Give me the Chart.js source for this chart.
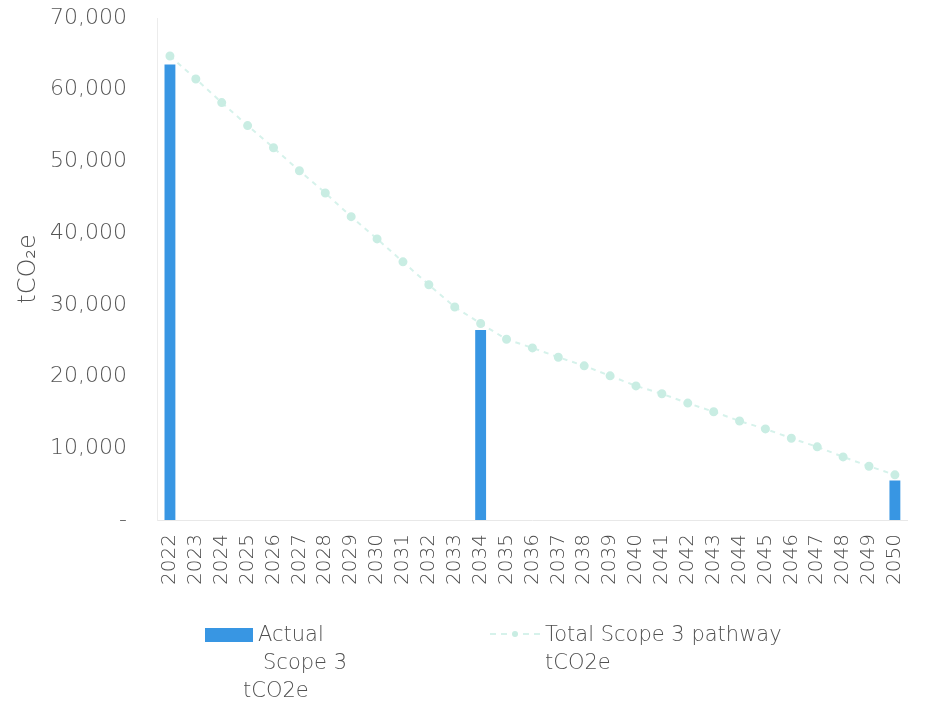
<!DOCTYPE html>
<html>
<head>
<meta charset="utf-8">
<script src="https://cdn.jsdelivr.net/npm/chart.js@4"></script>
<style>
  body { margin: 0; background: #fff; }
  #wrap { position: relative; width: 933px; height: 709px; }
  .lg { position: absolute; font-family: 'DejaVu Sans', sans-serif; font-weight: 300;
        font-size: 21px; line-height: 28px; color: #505050; white-space: nowrap; }
  #lgBox { position: absolute; left: 205px; top: 628px; width: 48px; height: 14px; }
  #lgLine { position: absolute; left: 490px; top: 633px; width: 50px; height: 0; }
  #lgDot { position: absolute; left: 512px; top: 631px; width: 6px; height: 6px; border-radius: 50%; }
</style>
</head>
<body>
<div id="wrap">
  <canvas id="scopeChart" width="933" height="709"></canvas>
  <div id="lgBox"></div>
  <div class="lg" style="left:258px; top:620px;">
    <div>Actual</div>
    <div style="margin-left:5px">Scope 3</div>
    <div style="margin-left:-15px">tCO2e</div>
  </div>
  <div id="lgLine"></div>
  <div id="lgDot"></div>
  <div class="lg" style="left:545px; top:620px;">
    <div>Total Scope 3 pathway</div>
    <div>tCO2e</div>
  </div>
</div>
<script>
  // data
  const years = ['2022', '2023', '2024', '2025', '2026', '2027', '2028', '2029', '2030',
    '2031', '2032', '2033', '2034', '2035', '2036', '2037', '2038', '2039', '2040',
    '2041', '2042', '2043', '2044', '2045', '2046', '2047', '2048', '2049', '2050'];

  const actual = [63500, null, null, null, null, null, null, null, null, null, null, null,
    26500, null, null, null, null, null, null, null, null, null, null, null, null, null,
    null, null, 5500];

  const pathway = [64700, 61500, 58200, 55000, 51900, 48700, 45600, 42300, 39200, 36000,
    32800, 29700, 27400, 25200, 24000, 22700, 21500, 20100, 18700, 17600, 16300, 15100,
    13800, 12700, 11400, 10200, 8800, 7500, 6300];

  const yTicks = [0, 10000, 20000, 30000, 40000, 50000, 60000, 70000];

  const barColor = '#3896e3';
  const lineColor = '#d6f2eb';
  const dotColor = '#c9ede3';

  // legend swatches (html)
  document.getElementById('lgBox').style.background = barColor;
  document.getElementById('lgLine').style.borderTop = '2px dashed ' + lineColor;
  document.getElementById('lgDot').style.background = dotColor;

  Chart.defaults.font.family = "'DejaVu Sans', sans-serif";
  Chart.defaults.font.weight = 300;
  Chart.defaults.color = '#555';

  const scopeData = {
    labels: years,
    datasets: [{
      type: 'bar',
      label: 'Actual Scope 3 tCO2e',
      data: actual,
      backgroundColor: barColor,
      barPercentage: 0.42,
      categoryPercentage: 1,
      order: 1
    }, {
      type: 'line',
      label: 'Total Scope 3 pathway tCO2e',
      data: pathway,
      borderColor: lineColor,
      borderWidth: 2,
      borderDash: [5, 5],
      pointRadius: 3.5,
      pointBackgroundColor: dotColor,
      pointBorderColor: dotColor,
      tension: 0,
      order: 2
    }]
  };

  const scopeOptions = {
    responsive: false,
    animation: false,
    layout: {
      padding: { top: 18, right: 3, bottom: 114, left: 0 }
    },
    plugins: {
      legend: { display: false },
      tooltip: { enabled: false }
    },
    scales: {
      x: {
        offset: true,
        grid: { display: false, drawTicks: false },
        border: { display: true, color: '#e8e8e8' },
        ticks: {
          autoSkip: false,
          minRotation: 90,
          maxRotation: 90,
          padding: 14,
          font: { size: 20 },
          color: '#4a4a4a'
        },
        afterFit: function (scale) { scale.height = 75; }
      },
      y: {
        min: 0,
        max: 70000,
        afterBuildTicks: function (scale) {
          scale.ticks = yTicks.map(v => ({ value: v }));
        },
        grid: { display: false, drawTicks: false },
        border: { display: true, color: '#ececec' },
        ticks: {
          padding: 30,
          font: { size: 22 },
          color: '#555',
          callback: function (v) { return v === 0 ? '-' : v.toLocaleString('en-US'); }
        },
        title: {
          display: true,
          text: 'tCO\u2082e',
          font: { size: 24 },
          color: '#555',
          padding: { top: 14, bottom: 0 }
        },
        afterFit: function (scale) {
          scale.width = 157;
          scale.paddingTop = 12;
        }
      }
    }
  };

  const scopeChart = new Chart(document.getElementById('scopeChart'), {
    data: scopeData,
    options: scopeOptions
  });
</script>
</body>
</html>
